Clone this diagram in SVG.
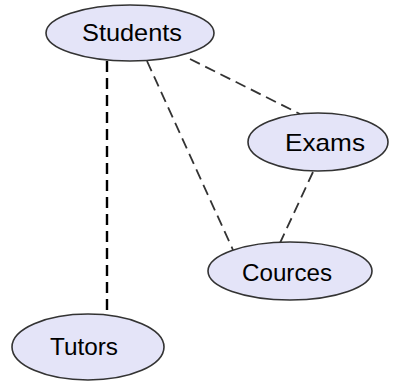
<svg xmlns="http://www.w3.org/2000/svg" width="393" height="387" viewBox="0 0 393 387">
<style>
.n{fill:#e4e4f8;stroke:#333;stroke-width:1.6}
.t{font-family:"Liberation Sans",Arial,sans-serif;font-size:24px;fill:#000;text-anchor:middle}
.e{stroke:#333;stroke-width:1.8;stroke-dasharray:11 6;fill:none}
</style>
<rect width="393" height="387" fill="#fff"/>
<g id="connectors">
<line class="e" x1="107" y1="61" x2="107" y2="313" style="stroke:#000;stroke-width:2.4"/>
<line class="e" x1="147" y1="61" x2="233" y2="250"/>
<line class="e" x1="190" y1="59" x2="300" y2="114"/>
<line class="e" x1="313" y1="172" x2="280" y2="243"/>
</g>
<g id="students"><ellipse class="n" cx="130" cy="33" rx="84" ry="28"/><text class="t" x="132" y="41" textLength="100" lengthAdjust="spacingAndGlyphs">Students</text></g>
<g id="exams"><ellipse class="n" cx="318" cy="142" rx="70" ry="29"/><text class="t" x="325" y="151" textLength="80" lengthAdjust="spacingAndGlyphs">Exams</text></g>
<g id="cources"><ellipse class="n" cx="290" cy="271" rx="82" ry="29"/><text class="t" x="287" y="281" textLength="90" lengthAdjust="spacingAndGlyphs">Cources</text></g>
<g id="tutors"><ellipse class="n" cx="88" cy="347" rx="76" ry="33"/><text class="t" x="84" y="355" textLength="68" lengthAdjust="spacingAndGlyphs">Tutors</text></g>
</svg>
